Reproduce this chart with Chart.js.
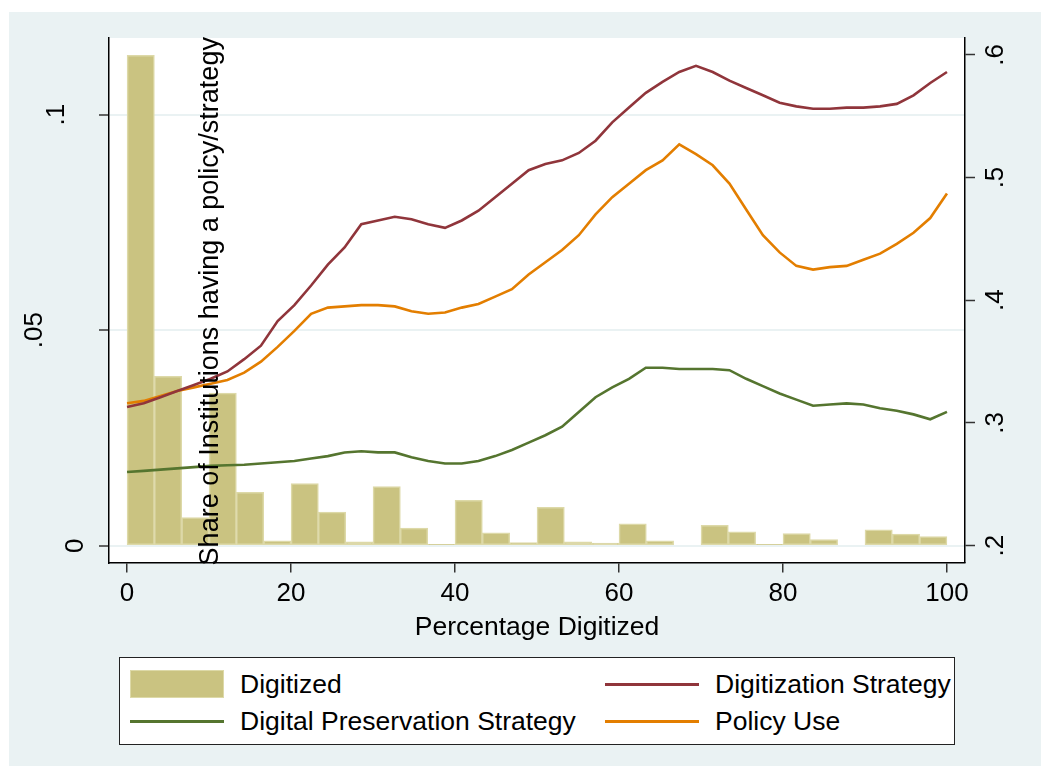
<!DOCTYPE html>
<html>
<head>
<meta charset="utf-8">
<script src="https://cdn.jsdelivr.net/npm/chart.js@4.4.1/dist/chart.umd.min.js"></script>
<style>
html, body { margin: 0; padding: 0; background: #fff; }
#wrap { position: relative; width: 1050px; height: 774px; }
#legend {
    position: absolute; left: 119px; top: 657px; width: 834px; height: 86px;
    border: 1px solid #222; background: #fff;
    font: 26.5px 'Liberation Sans', Arial, sans-serif; color: #000;
}
.item { position: absolute; display: flex; align-items: center; height: 36px; white-space: nowrap; }
.sw { width: 94px; margin-right: 16px; }
</style>
</head>
<body>
<div id="wrap">
    <canvas id="chart" width="1050" height="774"></canvas>
    <div id="legend"></div>
</div>
<script>
// histogram: 30 bins of width 100/30
const binCenters = [1.67, 5, 8.33, 11.67, 15, 18.33, 21.67, 25, 28.33, 31.67, 35, 38.33, 41.67, 45, 48.33,
    51.67, 55, 58.33, 61.67, 65, 68.33, 71.67, 75, 78.33, 81.67, 85, 88.33, 91.67, 95, 98.33];
const digitized = [0.1138, 0.0393, 0.0065, 0.0354, 0.0124, 0.0011, 0.0144, 0.0078, 0.0009, 0.0137,
    0.0041, 0.0003, 0.0105, 0.0030, 0.0007, 0.0089, 0.0009, 0.0006, 0.0051, 0.0011,
    0, 0.0047, 0.0032, 0.0003, 0.0028, 0.0014, 0, 0.0037, 0.0027, 0.0021];

// smoothed shares, right axis
const gridX = [0, 2.04, 4.08, 6.12, 8.16, 10.2, 12.24, 14.29, 16.33, 18.37, 20.41, 22.45, 24.49, 26.53, 28.57,
    30.61, 32.65, 34.69, 36.73, 38.78, 40.82, 42.86, 44.9, 46.94, 48.98, 51.02, 53.06, 55.1, 57.14, 59.18,
    61.22, 63.27, 65.31, 67.35, 69.39, 71.43, 73.47, 75.51, 77.55, 79.59, 81.63, 83.67, 85.71, 87.76, 89.8,
    91.84, 93.88, 95.92, 97.96, 100];
const digitizationStrategy = [0.313, 0.316, 0.321, 0.326, 0.331, 0.336, 0.342, 0.352, 0.363, 0.383,
    0.396, 0.412, 0.429, 0.443, 0.462, 0.465, 0.468, 0.466, 0.462, 0.459,
    0.465, 0.473, 0.484, 0.495, 0.506, 0.511, 0.514, 0.520, 0.530, 0.545,
    0.557, 0.569, 0.578, 0.586, 0.591, 0.586, 0.579, 0.573, 0.567, 0.561,
    0.558, 0.556, 0.556, 0.557, 0.557, 0.558, 0.560, 0.567, 0.577, 0.586];
const preservationStrategy = [0.260, 0.261, 0.262, 0.263, 0.264, 0.265, 0.2655, 0.266, 0.267, 0.268,
    0.269, 0.271, 0.273, 0.276, 0.277, 0.276, 0.276, 0.272, 0.269, 0.267,
    0.267, 0.269, 0.273, 0.278, 0.284, 0.290, 0.297, 0.309, 0.321, 0.329,
    0.336, 0.345, 0.345, 0.344, 0.344, 0.344, 0.343, 0.336, 0.330, 0.324,
    0.319, 0.314, 0.315, 0.316, 0.315, 0.312, 0.310, 0.307, 0.303, 0.309];
const policyUse = [0.316, 0.318, 0.322, 0.326, 0.329, 0.332, 0.335, 0.341, 0.350, 0.362,
    0.375, 0.389, 0.394, 0.395, 0.396, 0.396, 0.395, 0.391, 0.389, 0.390,
    0.394, 0.397, 0.403, 0.409, 0.421, 0.431, 0.441, 0.453, 0.470, 0.484,
    0.495, 0.506, 0.514, 0.527, 0.519, 0.510, 0.495, 0.474, 0.453, 0.439,
    0.428, 0.425, 0.427, 0.428, 0.433, 0.438, 0.446, 0.455, 0.467, 0.487];

const xTicks = [0, 20, 40, 60, 80, 100];
const leftTicks = [0, 0.05, 0.1];
const rightTicks = [0.2, 0.3, 0.4, 0.5, 0.6];
const seriesNames = ['Digitized', 'Digitization Strategy', 'Digital Preservation Strategy', 'Policy Use'];
const xTitle = 'Percentage Digitized';
const yTitle = 'Share of Institutions having a policy/strategy';

const bluish = 'rgb(234,242,243)';
const barFill = 'rgb(202,195,129)';
const barEdge = 'rgb(221,217,168)';
const maroon = 'rgb(144,53,59)';
const green = 'rgb(85,117,47)';
const orange = 'rgb(227,126,0)';
const fontFam = "'Liberation Sans', Arial, sans-serif";

Chart.defaults.font.family = fontFam;

const fmt = v => v === 0 ? '0' : String(v).replace(/^0/, '');
const setTicks = list => scale => { scale.ticks = list.map(v => ({ value: v })); };

// stata style backgrounds
const backdrop = {
    id: 'backdrop',
    beforeDraw(chart) {
        const { ctx, chartArea: a } = chart;
        ctx.save();
        ctx.fillStyle = '#fff';
        ctx.fillRect(0, 0, chart.width, chart.height);
        ctx.fillStyle = bluish;
        ctx.fillRect(9, 12, 1032, 754);
        ctx.fillStyle = '#fff';
        ctx.fillRect(a.left, a.top, a.right - a.left, a.bottom - a.top);
        ctx.restore();
    }
};

// vertical tick labels + title
const leftGap = [33, 74, 52];
const rotatedText = {
    id: 'rotatedText',
    afterDatasetsDraw(chart) {
        const { ctx, chartArea: a, scales } = chart;
        const put = (txt, x, y) => {
            ctx.save();
            ctx.translate(x, y);
            ctx.rotate(-Math.PI / 2);
            ctx.fillText(txt, 0, 0);
            ctx.restore();
        };
        ctx.save();
        ctx.font = '26px ' + fontFam;
        ctx.fillStyle = '#000';
        ctx.textAlign = 'center';
        ctx.textBaseline = 'middle';
        leftTicks.forEach((v, i) => put(fmt(v), a.left - leftGap[i], scales.y.getPixelForValue(v)));
        rightTicks.forEach(v => put(fmt(v), a.right + 31, scales.y2.getPixelForValue(v)));
        ctx.font = '27px ' + fontFam;
        ctx.textBaseline = 'alphabetic';
        put(yTitle, a.left + 109, (a.top + a.bottom) / 2 + 1);
        ctx.restore();
    }
};

const lineSet = (label, ys, color) => ({
    type: 'line',
    label: label,
    data: gridX.map((x, i) => ({ x: x, y: ys[i] })),
    yAxisID: 'y2',
    borderColor: color,
    borderWidth: 2.6,
    pointRadius: 0,
    tension: 0,
    fill: false,
    order: 1
});

const chart = new Chart(document.getElementById('chart'), {
    type: 'bar',
    data: {
        datasets: [
            lineSet(seriesNames[1], digitizationStrategy, maroon),
            lineSet(seriesNames[2], preservationStrategy, green),
            lineSet(seriesNames[3], policyUse, orange),
            {
                type: 'bar',
                label: seriesNames[0],
                data: binCenters.map((x, i) => ({ x: x, y: digitized[i] })),
                yAxisID: 'y',
                backgroundColor: barFill,
                borderColor: barEdge,
                borderWidth: 1.5,
                borderSkipped: false,
                barPercentage: 1,
                categoryPercentage: 1,
                order: 2
            }
        ]
    },
    options: {
        responsive: false,
        animation: false,
        devicePixelRatio: 1,
        layout: { padding: { left: 99, right: 75, top: 38, bottom: 133 } },
        plugins: { legend: { display: false }, tooltip: { enabled: false } },
        scales: {
            x: {
                type: 'linear',
                position: 'bottom',
                offset: false,
                min: -2.2,
                max: 102.2,
                afterBuildTicks: setTicks(xTicks),
                grid: { offset: false, drawOnChartArea: false, tickLength: 10, tickColor: '#333', lineWidth: 1.5 },
                border: { color: '#000', width: 1.5 },
                ticks: { color: '#000', padding: 8, maxRotation: 0, font: { size: 26, lineHeight: 1 } },
                title: { display: true, text: xTitle, color: '#000', font: { size: 26.5, lineHeight: 1 }, padding: { top: 0, bottom: 0 } }
            },
            y: {
                position: 'left',
                min: -0.0039,
                max: 0.1178,
                afterBuildTicks: setTicks(leftTicks),
                grid: { color: bluish, lineWidth: 2, tickLength: 10, tickColor: '#333', tickWidth: 1.5 },
                border: { color: '#000', width: 1.5 },
                ticks: { display: false }
            },
            y2: {
                position: 'right',
                min: 0.1863,
                max: 0.6137,
                afterBuildTicks: setTicks(rightTicks),
                grid: { drawOnChartArea: false, tickLength: 10, tickColor: '#333', tickWidth: 1.5 },
                border: { color: '#000', width: 1.5 },
                ticks: { display: false }
            }
        }
    },
    plugins: [backdrop, rotatedText]
});

// legend, 2 x 2 like the original
const legendItems = [
    { name: seriesNames[0], kind: 'box', color: barFill, left: 10, top: 26 },
    { name: seriesNames[1], kind: 'line', color: maroon, left: 485, top: 26 },
    { name: seriesNames[2], kind: 'line', color: green, left: 10, top: 63 },
    { name: seriesNames[3], kind: 'line', color: orange, left: 485, top: 63 }
];
const legend = document.getElementById('legend');
legendItems.forEach(it => {
    const d = document.createElement('div');
    d.className = 'item';
    d.style.left = it.left + 'px';
    d.style.top = (it.top - 18) + 'px';
    const sw = document.createElement('span');
    sw.className = 'sw';
    if (it.kind === 'box') {
        sw.style.height = '28px';
        sw.style.background = it.color;
        sw.style.border = '1.5px solid ' + barEdge;
        sw.style.boxSizing = 'border-box';
    } else {
        sw.style.height = '3px';
        sw.style.background = it.color;
    }
    const tx = document.createElement('span');
    tx.textContent = it.name;
    d.appendChild(sw);
    d.appendChild(tx);
    legend.appendChild(d);
});
</script>
</body>
</html>
